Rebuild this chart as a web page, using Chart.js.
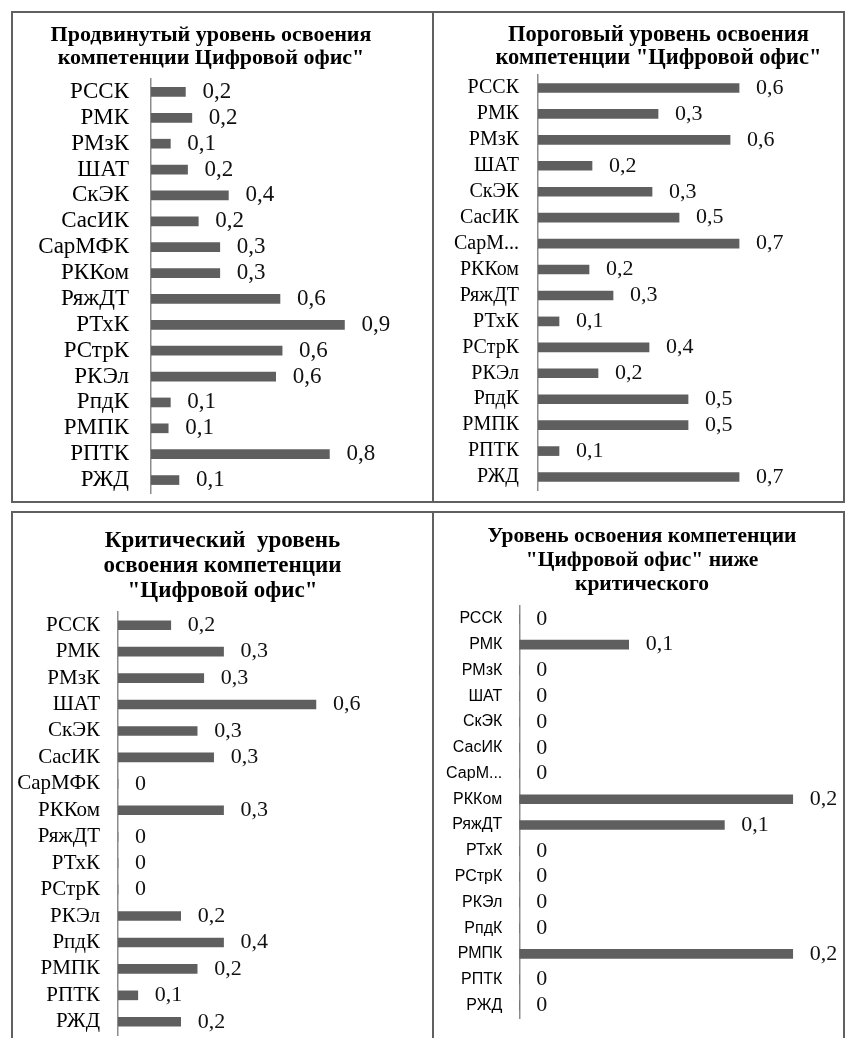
<!DOCTYPE html>
<html lang="ru">
<head>
<meta charset="utf-8">
<title>Уровни освоения компетенции "Цифровой офис"</title>
<script src="https://cdn.jsdelivr.net/npm/chart.js@4.4.1/dist/chart.umd.min.js"></script>
<style>
  html, body { margin: 0; padding: 0; background: #fff; overflow: hidden; }
  #page { position: relative; width: 846px; height: 1038px; overflow: hidden; }
  .frame { position: absolute; border: 2px solid #606060; box-sizing: border-box; }
  canvas { position: absolute; }
</style>
</head>
<body>
<div id="page">
  <div class="frame" style="left:11px;top:11px;width:423px;height:492px"></div>
  <div class="frame" style="left:432px;top:11px;width:413px;height:492px"></div>
  <div class="frame" style="left:11px;top:511px;width:423px;height:540px"></div>
  <div class="frame" style="left:432px;top:511px;width:413px;height:540px"></div>

  <canvas id="advChart" width="421" height="511" style="left:12px;top:12px"></canvas>
  <canvas id="thrChart" width="451" height="504" style="left:433px;top:12px"></canvas>
  <canvas id="critChart" width="421" height="548" style="left:12px;top:512px"></canvas>
  <canvas id="lowChart" width="411" height="540" style="left:433px;top:512px"></canvas>
</div>

<script>
// categories (same order in every panel, top to bottom)
const categories = ['РССК', 'РМК', 'РМзК', 'ШАТ', 'СкЭК', 'СасИК', 'СарМФК', 'РККом',
  'РяжДТ', 'РТхК', 'РСтрК', 'РКЭл', 'РпдК', 'РМПК', 'РПТК', 'РЖД'];
// right-hand panels show the long label cut short
const categoriesCut = ['РССК', 'РМК', 'РМзК', 'ШАТ', 'СкЭК', 'СасИК', 'СарМ...', 'РККом',
  'РяжДТ', 'РТхК', 'РСтрК', 'РКЭл', 'РпдК', 'РМПК', 'РПТК', 'РЖД'];

// Продвинутый уровень
const advanced = [0.16, 0.19, 0.09, 0.17, 0.36, 0.22, 0.32, 0.32, 0.60, 0.90, 0.61, 0.58, 0.09, 0.08, 0.83, 0.13];
const advancedText = ['0,2', '0,2', '0,1', '0,2', '0,4', '0,2', '0,3', '0,3', '0,6', '0,9', '0,6', '0,6', '0,1', '0,1', '0,8', '0,1'];

// Пороговый уровень
const threshold = [0.67, 0.40, 0.64, 0.18, 0.38, 0.47, 0.67, 0.17, 0.25, 0.07, 0.37, 0.20, 0.50, 0.50, 0.07, 0.67];
const thresholdText = ['0,6', '0,3', '0,6', '0,2', '0,3', '0,5', '0,7', '0,2', '0,3', '0,1', '0,4', '0,2', '0,5', '0,5', '0,1', '0,7'];

// Критический уровень
const critical = [0.16, 0.32, 0.26, 0.60, 0.24, 0.29, 0, 0.32, 0, 0, 0, 0.19, 0.32, 0.24, 0.06, 0.19];
const criticalText = ['0,2', '0,3', '0,3', '0,6', '0,3', '0,3', '0', '0,3', '0', '0', '0', '0,2', '0,4', '0,2', '0,1', '0,2'];

// Ниже критического
const belowCritical = [0, 0.08, 0, 0, 0, 0, 0, 0.20, 0.15, 0, 0, 0, 0, 0.20, 0, 0];
const belowCriticalText = ['0', '0,1', '0', '0', '0', '0', '0', '0,2', '0,1', '0', '0', '0', '0', '0,2', '0', '0'];

const barColor = '#5f5f5f';
const serif = "'Liberation Serif', 'Times New Roman', serif";

// draws the number to the right of each bar
function valueLabels(texts, size) {
  return {
    id: 'valueLabels',
    afterDatasetsDraw(chart) {
      const ctx = chart.ctx;
      ctx.save();
      ctx.font = size + 'px ' + serif;
      ctx.fillStyle = '#111';
      ctx.textAlign = 'left';
      ctx.textBaseline = 'middle';
      chart.getDatasetMeta(0).data.forEach((bar, i) => {
        ctx.fillText(texts[i], bar.x + 17, bar.y);
      });
      ctx.restore();
    }
  };
}

function makeChart(id, o) {
  return new Chart(document.getElementById(id), {
    type: 'bar',
    data: {
      labels: o.labels,
      datasets: [{ data: o.values, backgroundColor: barColor, barThickness: 9 }]
    },
    options: {
      indexAxis: 'y',
      responsive: false,
      animation: false,
      layout: { padding: o.padding },
      plugins: {
        legend: { display: false },
        tooltip: { enabled: false },
        title: {
          display: true,
          text: o.title,
          color: '#000',
          font: { family: serif, size: o.titleSize, weight: 'bold', lineHeight: o.titleLine },
          padding: o.titlePad
        }
      },
      scales: {
        x: { display: false, min: 0, max: o.max },
        y: {
          afterFit: s => { s.width = o.axisWidth; },
          grid: { display: true, drawOnChartArea: false, drawTicks: false, color: 'transparent' },
          border: { display: true, color: '#8c8c8c', width: 1.5 },
          ticks: {
            autoSkip: false,
            padding: o.tickPad,
            color: '#000',
            font: { family: o.tickFont, size: o.tickSize, lineHeight: 0.6 }
          }
        }
      }
    },
    plugins: [valueLabels(o.texts, o.valueSize)]
  });
}

makeChart('advChart', {
  labels: categories, values: advanced, texts: advancedText,
  title: ['Продвинутый уровень освоения', 'компетенции Цифровой офис"'],
  titleSize: 22, titleLine: '23px', titlePad: { top: 12, bottom: 9 },
  padding: { left: 0, right: 23, top: 0, bottom: 30 },
  axisWidth: 139, max: 1.205, tickPad: 22, tickFont: serif, tickSize: 23, valueSize: 23
});

makeChart('thrChart', {
  labels: categoriesCut, values: threshold, texts: thresholdText,
  title: ['Пороговый уровень освоения', 'компетенции "Цифровой офис"'],
  titleSize: 22.5, titleLine: '23px', titlePad: { top: 11.5, bottom: 5.5 },
  padding: { left: 0, right: 0, top: 0, bottom: 26 },
  axisWidth: 105, max: 1.153, tickPad: 19, tickFont: serif, tickSize: 20, valueSize: 22
});

makeChart('critChart', {
  labels: categories, values: critical, texts: criticalText,
  title: ['Критический  уровень', 'освоения компетенции', '"Цифровой офис"'],
  titleSize: 23, titleLine: '25px', titlePad: { top: 16.5, bottom: 8.5 },
  padding: { left: 0, right: 0, top: 0, bottom: 25 },
  axisWidth: 106, max: 0.955, tickPad: 18, tickFont: serif, tickSize: 21, valueSize: 22
});

makeChart('lowChart', {
  labels: categoriesCut, values: belowCritical, texts: belowCriticalText,
  title: ['Уровень освоения компетенции', '"Цифровой офис" ниже', 'критического'],
  titleSize: 21.5, titleLine: '24px', titlePad: { top: 12, bottom: 10 },
  padding: { left: 7, right: 0, top: 0, bottom: 33.7 },
  axisWidth: 79.3, max: 0.2375, tickPad: 17, tickFont: "'Liberation Sans', Arial, sans-serif", tickSize: 16, valueSize: 22
});
</script>
</body>
</html>
